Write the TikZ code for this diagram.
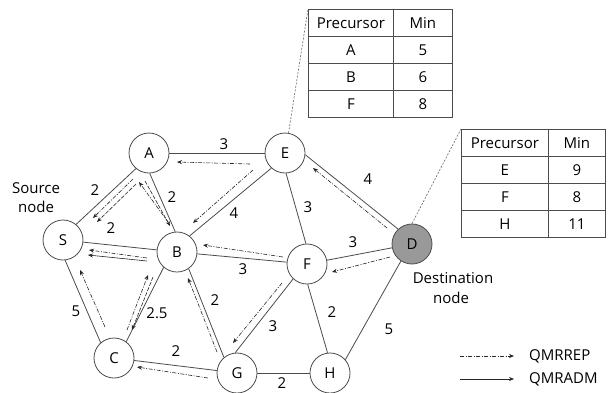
\documentclass[tikz,border=0pt]{standalone}
\usepackage{fontspec}
\setmainfont{Open Sans}
\usetikzlibrary{calc,arrows.meta,matrix}
\begin{document}
\begin{tikzpicture}[x=1pt,y=-1pt,
  font=\fontsize{15}{17}\selectfont,
  vertex/.style={circle,draw=black!70,line width=0.8pt,minimum size=40pt,inner sep=0pt,fill=white},
  dest/.style={vertex,fill=black!40},
  edge/.style={draw=black!70,line width=0.8pt},
  rep/.style={draw=black!85,line width=0.6pt,dash pattern=on 4pt off 1.5pt on 1pt off 1.5pt,-{Stealth[length=5pt,width=4pt]}},
  adm/.style={draw=black!85,line width=0.6pt,-{Stealth[length=5pt,width=4pt]}},
  admd/.style={adm,dash pattern=on 4pt off 1.5pt},
  wlabel/.style={inner sep=0pt,text=black},
  txt/.style={inner sep=0pt,anchor=base,text=black},
  callout/.style={draw=black!60,line width=0.6pt,dash pattern=on 2pt off 1.5pt},
  cell/.style={draw=black!70,line width=0.8pt,minimum height=27pt,inner sep=0pt,text=black},
]
\useasboundingbox[fill=white] (0,0) rectangle (610,392);

% vertices
\node[vertex] (S) at (63,240) {S};
\node[vertex] (A) at (149,153) {A};
\node[vertex] (E) at (285,153) {E};
\node[vertex] (B) at (177,252) {B};
\node[vertex] (F) at (307,264) {F};
\node[dest]   (D) at (412,244) {D};
\node[vertex] (C) at (114,358) {C};
\node[vertex] (G) at (237,373) {G};
\node[vertex] (H) at (330,373) {H};

% edges
\draw[edge] (A) -- (E);
\draw[edge] (A.-130) -- (S.50);
\draw[edge] (A.-88) -- (B.95);
\draw[edge] (E.-132) -- (B.52);
\draw[edge] (E.-87) -- (F.93);
\draw[edge] (E.-5) -- (D.133);
\draw[edge] (S) -- (B);
\draw[edge] (S.-84) -- (C.131);
\draw[edge] (C.53) -- (B.-131);
\draw[edge] (B) -- (F);
\draw[edge] (B.-55) -- (G.130);
\draw[edge] (C) -- (G);
\draw[edge] (G) -- (H);
\draw[edge] (F.-133) -- (G.95);
\draw[edge] (F.-88) -- (H.97);
\draw[edge] (F) -- (D);
\draw[edge] (H.41) -- (D.-123);

% edge weights
\node[wlabel] (wAE) at (224,144) {3};
\node[wlabel] (wSA) at (95,190) {2};
\node[wlabel] (wAB) at (172,197) {2};
\node[wlabel] (wSB) at (111,228) {2};
\node[wlabel] (wEB) at (234,213) {4};
\node[wlabel] (wEF) at (308,207) {3};
\node[wlabel] (wED) at (368,179) {4};
\node[wlabel] (wFD) at (353,242) {3};
\node[wlabel] (wBF) at (243,269) {3};
\node[wlabel] (wSC) at (76,311) {5};
\node[wlabel] (wCB) at (157,313) {2.5};
\node[wlabel] (wBG) at (215,300) {2};
\node[wlabel] (wFG) at (273,326) {3};
\node[wlabel] (wCG) at (176,351) {2};
\node[wlabel] (wGH) at (282,383) {2};
\node[wlabel] (wFH) at (332,312) {2};
\node[wlabel] (wHD) at (389,329) {5};

% flow arrows
\draw[rep]  ($(E)+(-35,11)$) -- ($(A)+(28,9)$);
\draw[rep]  ($(E)+(-32,17)$) -- ($(B)+(16,-29)$);
\draw[rep]  ($(A)+(-16,26)$) -- ($(S)+(30,-22)$);
\draw[admd] ($(A)+(-13,31)$) -- ($(S)+(34,-18)$);
\draw[rep]  ($(B)+(-9,-30)$) -- ($(A)+(-10,29)$);
\draw[admd] ($(A)+(-4,28)$) -- ($(B)+(-7,-26)$);
\draw[rep]  ($(B)+(-30,6)$) -- ($(S)+(26,10)$);
\draw[adm]  ($(B)+(-30,9)$) -- ($(S)+(25,15)$);
\draw[rep]  ($(C)+(-9,-31)$) -- ($(S)+(17,30)$);
\draw[rep]  ($(C)+(13,-28)$) -- ($(B)+(-29,23)$);
\draw[admd] ($(B)+(-24,25)$) -- ($(C)+(18,-28)$);
\draw[rep]  ($(G)+(-20,-21)$) -- ($(B)+(11,26)$);
\draw[rep]  ($(F)+(-25,19)$) -- ($(G)+(-4,-30)$);
\draw[rep]  ($(G)+(-29,5)$) -- ($(C)+(23,9)$);
\draw[rep]  ($(F)+(-24,-7)$) -- ($(B)+(26,-7)$);
\draw[rep]  ($(D)+(-25,-16)$) -- ($(E)+(28,15)$);
\draw[rep]  ($(D)+(-22,13)$) -- ($(F)+(25,8)$);

% side labels
\node[txt] (src1) at (36,193) {Source};
\node[txt] (src2) at (36,212) {node};
\node[txt] (dst1) at (453,283) {Destination};
\node[txt] (dst2) at (451,303) {node};

% tables
\matrix (T1) [matrix of nodes, anchor=north west, inner sep=0pt, outer sep=0pt,
  column sep=-0.8pt, row sep=-0.8pt, nodes={cell},
  column 1/.style={nodes={minimum width=85pt}},
  column 2/.style={nodes={minimum width=59pt}}] at (308,9)
  { Precursor & Min \\ A & 5 \\ B & 6 \\ F & 8 \\ };
\matrix (T2) [matrix of nodes, anchor=north west, inner sep=0pt, outer sep=0pt,
  column sep=-0.8pt, row sep=-0.8pt, nodes={cell},
  column 1/.style={nodes={minimum width=87pt}},
  column 2/.style={nodes={minimum width=57pt}}] at (461,129)
  { Precursor & Min \\ E & 9 \\ F & 8 \\ H & 11 \\ };
\draw[callout] (E.80) -- (T1.north west);
\draw[callout] (D.north) -- (T2.north west);

% legend
\coordinate (L1a) at (460,356);
\coordinate (L1b) at (514,356);
\coordinate (L2a) at (460,379);
\coordinate (L2b) at (514,379);
\draw[rep] (L1a) -- (L1b);
\draw[adm] (L2a) -- (L2b);
\node[wlabel,anchor=west] (L1t) at (529,356) {QMRREP};
\node[wlabel,anchor=west] (L2t) at (529,379) {QMRADM};
\end{tikzpicture}
\end{document}
